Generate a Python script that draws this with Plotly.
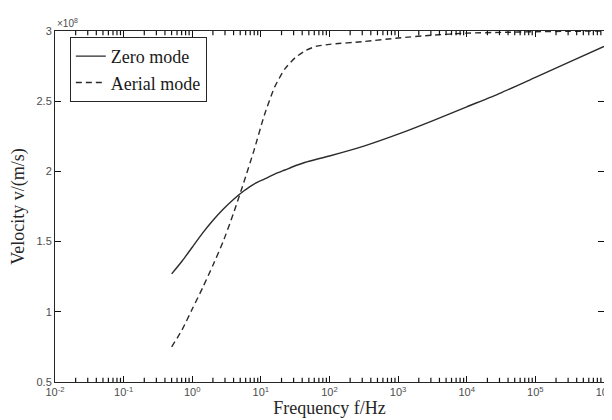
import plotly.graph_objects as go

# Frequency (Hz) sample points
freq = [0.501, 0.708, 1.0, 1.413, 1.995, 2.818, 3.981, 5.623, 7.943, 11.22, 15.85, 22.39,
        31.62, 44.67, 63.10, 100.0, 316.2, 1000.0, 3162.0, 10000.0, 31623.0, 100000.0,
        316228.0, 1000000.0]

# Velocity in units of 1e8 m/s
zero_mode = [1.27, 1.36, 1.46, 1.56, 1.65, 1.73, 1.80, 1.86, 1.91, 1.945, 1.98, 2.01,
             2.04, 2.065, 2.085, 2.11, 2.18, 2.265, 2.36, 2.46, 2.56, 2.67, 2.78, 2.89]
aerial_mode = [0.75, 0.87, 1.02, 1.17, 1.33, 1.50, 1.70, 1.92, 2.15, 2.40, 2.60, 2.73,
               2.81, 2.86, 2.89, 2.905, 2.925, 2.95, 2.97, 2.985, 2.99, 2.995, 2.998, 3.0]

x_tickvals = [1e-2, 1e-1, 1e0, 1e1, 1e2, 1e3, 1e4, 1e5, 1e6]
x_ticktext = ["10<sup>-2</sup>", "10<sup>-1</sup>", "10<sup>0</sup>", "10<sup>1</sup>",
              "10<sup>2</sup>", "10<sup>3</sup>", "10<sup>4</sup>", "10<sup>5</sup>",
              "10<sup>6</sup>"]
y_tickvals = [0.5, 1, 1.5, 2, 2.5, 3]
y_ticktext = ["0.5", "1", "1.5", "2", "2.5", "3"]
minor_tickvals = [m * d for d in x_tickvals[:-1] for m in range(2, 10)]

fig = go.Figure()
fig.add_trace(go.Scatter(x=freq, y=zero_mode, mode="lines", name="Zero mode",
                         line=dict(color="#2b2b2b", width=1.4, shape="spline", smoothing=0.6)))
fig.add_trace(go.Scatter(x=freq, y=aerial_mode, mode="lines", name="Aerial mode",
                         line=dict(color="#2b2b2b", width=1.4, dash="6px,4px", shape="spline", smoothing=0.6)))

tickfont = dict(family="Liberation Sans, Arial", size=11, color="#4d4d4d")
titlefont = dict(family="Liberation Serif, Times New Roman", size=18, color="#262626")

# minor log ticks on bottom and top edges (axis decoration)
for v in minor_tickvals:
    fig.add_shape(type="line", xref="x", yref="paper", x0=v, x1=v, y0=0, y1=0.012,
                  line=dict(color="#111111", width=1.2), layer="above")
    fig.add_shape(type="line", xref="x", yref="paper", x0=v, x1=v, y0=1, y1=0.988,
                  line=dict(color="#111111", width=1.2), layer="above")

fig.update_layout(
    width=612, height=420,
    margin=dict(l=46, r=8, t=23, b=46),
    paper_bgcolor="white", plot_bgcolor="white",
    showlegend=True,
    xaxis=dict(type="log", range=[-2, 6], tickvals=x_tickvals, ticktext=x_ticktext,
               ticks="inside", ticklen=6, tickwidth=1.2, tickcolor="#111111",
               showline=True, linecolor="#262626", linewidth=1, mirror="ticks",
               showgrid=False, zeroline=False, tickfont=tickfont,
               title=dict(text="Frequency f/Hz", font=titlefont, standoff=4)),
    yaxis=dict(range=[0.5, 3], tickvals=y_tickvals, ticktext=y_ticktext,
               ticks="inside", ticklen=6, tickwidth=1.2, tickcolor="#111111",
               showline=True, linecolor="#262626", linewidth=1, mirror="ticks",
               showgrid=False, zeroline=False, tickfont=tickfont,
               title=dict(text="Velocity v/(m/s)", font=titlefont, standoff=8)),
    legend=dict(x=0.027, y=0.983, xanchor="left", yanchor="top",
                bgcolor="white", bordercolor="#262626", borderwidth=1,
                font=dict(family="Liberation Serif, Times New Roman", size=18, color="#1a1a1a"),
                itemwidth=30, tracegroupgap=0),
)

fig.add_annotation(text="\u00d710<sup>8</sup>", xref="paper", yref="paper", x=0, y=1.0,
                   xanchor="left", yanchor="bottom", showarrow=False,
                   font=dict(family="Liberation Sans, Arial", size=10, color="#4d4d4d"))

fig.write_html("out.html")
